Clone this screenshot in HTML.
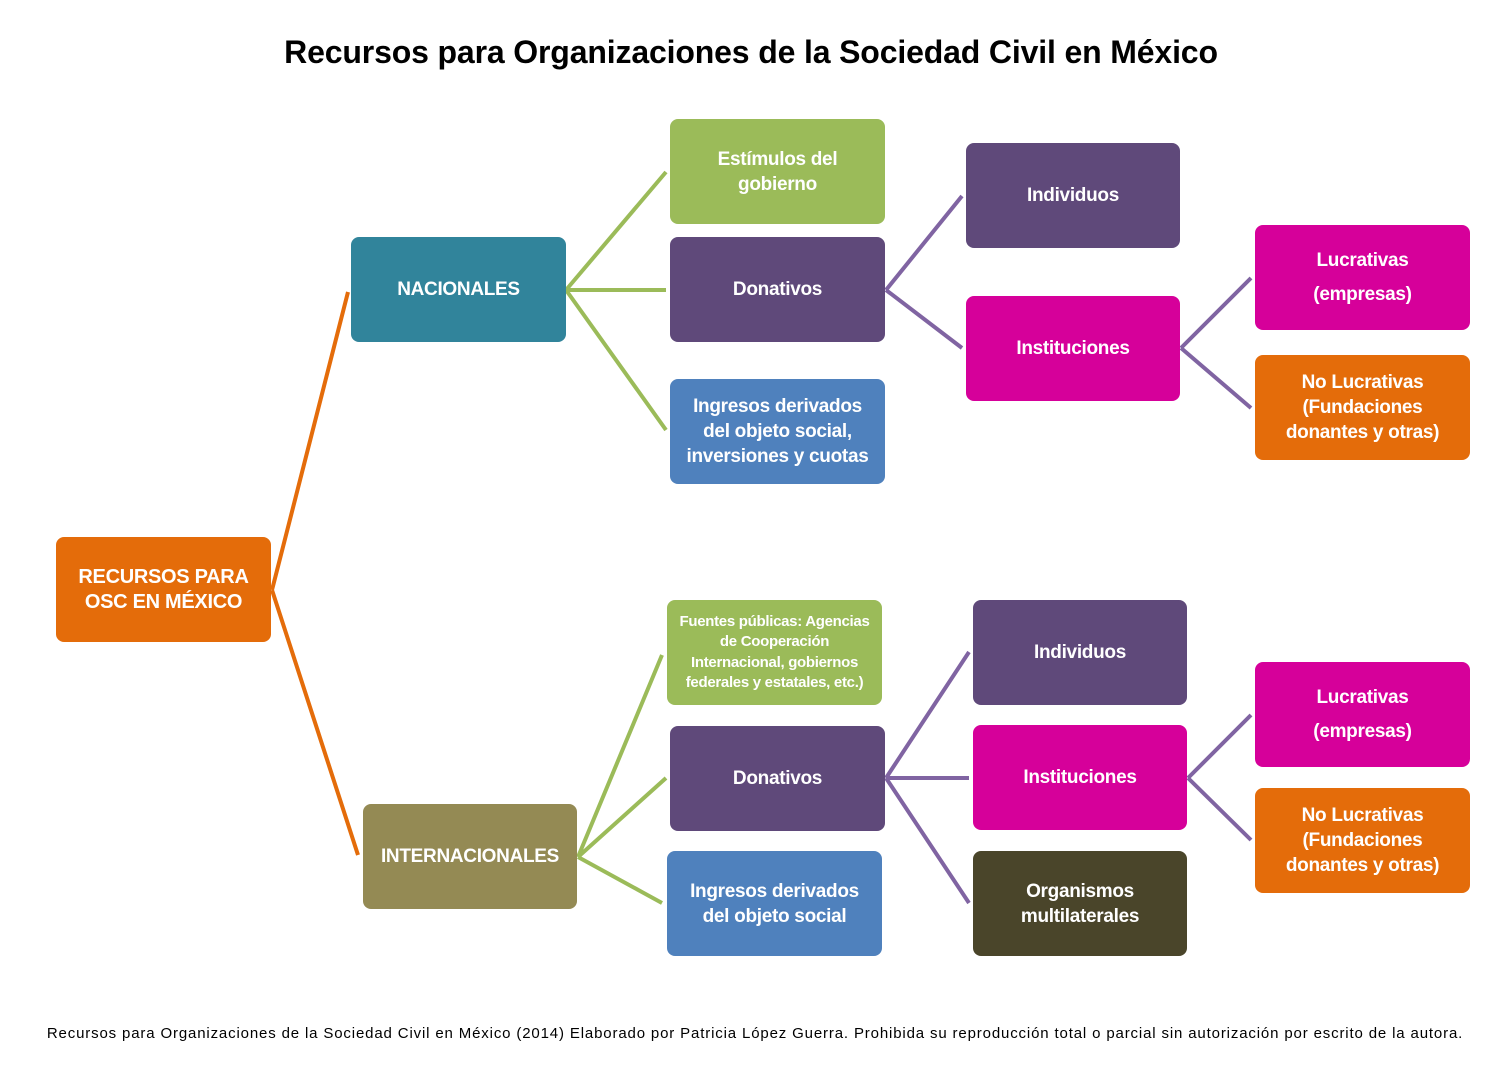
<!DOCTYPE html>
<html><head><meta charset="utf-8"><style>
body{margin:0;background:#fff;width:1502px;height:1065px;position:relative;overflow:hidden;font-family:"Liberation Sans",sans-serif}
.b{position:absolute;border-radius:8px;color:#fff;font-weight:bold;display:flex;align-items:center;justify-content:center;text-align:center;font-size:19px;line-height:25px;letter-spacing:-0.3px}
.o{background:#E46C0A}.t{background:#31849B}.g{background:#9BBB59}.p{background:#5F497A}.m{background:#D6009A}.bl{background:#4F81BD}.ol{background:#948A54}.d{background:#4A452A}
svg{position:absolute;left:0;top:0}
</style></head><body>
<div style="position:absolute;left:0;width:1502px;top:34px;text-align:center;font-size:32px;font-weight:bold;color:#000;letter-spacing:-0.15px">Recursos para Organizaciones de la Sociedad Civil en México</div>
<svg width="1502" height="1065" fill="none" stroke-width="4">
<g stroke="#E46C0A"><path d="M272 590 L348 292 M272 590 L358 855"/></g>
<g stroke="#9BBB59"><path d="M566 290 L666 172 M566 290 L666 290 M566 290 L666 430 M578 857 L662 655 M578 857 L666 778 M578 857 L662 903"/></g>
<g stroke="#8064A2"><path d="M886 290 L962 196 M886 290 L962 348 M1181 348 L1251 278 M1181 348 L1251 408 M886 778 L969 652 M886 778 L969 778 M886 778 L969 903 M1188 778 L1251 715 M1188 778 L1251 840"/></g>
</svg>
<div class="b o" style="left:56px;top:537px;width:215px;height:105px;font-size:20px">RECURSOS PARA<br>OSC EN MÉXICO</div>
<div class="b t" style="left:351px;top:237px;width:215px;height:105px">NACIONALES</div>
<div class="b ol" style="left:363px;top:804px;width:214px;height:105px">INTERNACIONALES</div>
<div class="b g" style="left:670px;top:119px;width:215px;height:105px">Estímulos del<br>gobierno</div>
<div class="b p" style="left:670px;top:237px;width:215px;height:105px">Donativos</div>
<div class="b bl" style="left:670px;top:379px;width:215px;height:105px">Ingresos derivados<br>del objeto social,<br>inversiones y cuotas</div>
<div class="b p" style="left:966px;top:143px;width:214px;height:105px">Individuos</div>
<div class="b m" style="left:966px;top:296px;width:214px;height:105px">Instituciones</div>
<div class="b m" style="left:1255px;top:225px;width:215px;height:105px;line-height:34px">Lucrativas<br>(empresas)</div>
<div class="b o" style="left:1255px;top:355px;width:215px;height:105px">No Lucrativas<br>(Fundaciones<br>donantes y otras)</div>
<div class="b g" style="left:667px;top:600px;width:215px;height:105px;font-size:15px;line-height:20.5px">Fuentes públicas: Agencias<br>de Cooperación<br>Internacional, gobiernos<br>federales y estatales, etc.)</div>
<div class="b p" style="left:670px;top:726px;width:215px;height:105px">Donativos</div>
<div class="b bl" style="left:667px;top:851px;width:215px;height:105px">Ingresos derivados<br>del objeto social</div>
<div class="b p" style="left:973px;top:600px;width:214px;height:105px">Individuos</div>
<div class="b m" style="left:973px;top:725px;width:214px;height:105px">Instituciones</div>
<div class="b d" style="left:973px;top:851px;width:214px;height:105px">Organismos<br>multilaterales</div>
<div class="b m" style="left:1255px;top:662px;width:215px;height:105px;line-height:34px">Lucrativas<br>(empresas)</div>
<div class="b o" style="left:1255px;top:788px;width:215px;height:105px">No Lucrativas<br>(Fundaciones<br>donantes y otras)</div>
<div style="position:absolute;left:0;width:1510px;top:1025px;text-align:center;font-size:15px;color:#000;letter-spacing:0.85px;white-space:nowrap">Recursos para Organizaciones de la Sociedad Civil en México (2014) Elaborado por Patricia López Guerra. Prohibida su reproducción total o parcial sin autorización por escrito de la autora.</div>
</body></html>
